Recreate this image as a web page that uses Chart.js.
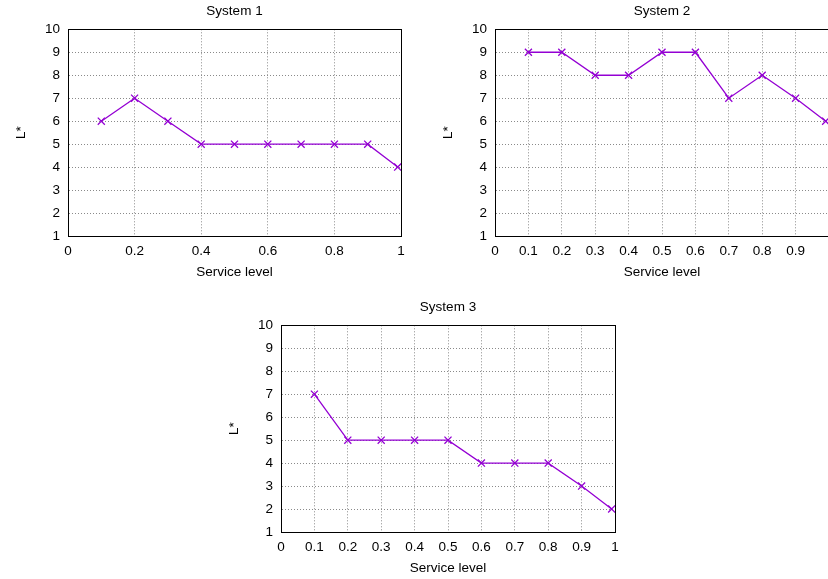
<!DOCTYPE html>
<html>
<head>
<meta charset="utf-8">
<script src="https://cdn.jsdelivr.net/npm/chart.js@4.4.1/dist/chart.umd.min.js"></script>
<style>
html, body { margin:0; padding:0; width:828px; height:579px; overflow:hidden; background:#fff; }
.box { position:absolute; }
</style>
</head>
<body>
<div class="box" style="left:0px;top:0px;width:420px;height:290px;"><canvas id="c1"></canvas></div>
<div class="box" style="left:427px;top:0px;width:421px;height:290px;"><canvas id="c2"></canvas></div>
<div class="box" style="left:213px;top:296px;width:421px;height:290px;"><canvas id="c3"></canvas></div>
<script>
// Data
const system1X = [0.1, 0.2, 0.3, 0.4, 0.5, 0.6, 0.7, 0.8, 0.9, 0.99];
const system1Y = [6, 7, 6, 5, 5, 5, 5, 5, 5, 4];
const system2X = [0.1, 0.2, 0.3, 0.4, 0.5, 0.6, 0.7, 0.8, 0.9, 0.99];
const system2Y = [9, 9, 8, 8, 9, 9, 7, 8, 7, 6];
const system3X = [0.1, 0.2, 0.3, 0.4, 0.5, 0.6, 0.7, 0.8, 0.9, 0.99];
const system3Y = [7, 5, 5, 5, 5, 4, 4, 4, 3, 2];
const titles = ['System 1', 'System 2', 'System 3'];
const xStep = [0.2, 0.1, 0.1];
// x tick labels shown per chart (chart 2 is cut at the right edge, its "1" is not visible)
const xLastLabelShown = [true, false, true];

const FONT = 'Liberation Sans, Arial, Helvetica, sans-serif';
const FS = 13.5;
const PURPLE = '#9400D3';

const frame = {
  id: 'frame',
  afterDraw(chart) {
    const a = chart.chartArea, ctx = chart.ctx;
    ctx.save();
    ctx.strokeStyle = '#000';
    ctx.lineWidth = 1;
    ctx.strokeRect(Math.round(a.left) + 0.5, Math.round(a.top) + 0.5,
                   Math.round(a.right - a.left), Math.round(a.bottom - a.top));
    ctx.restore();
  }
};

function make(id, xs, ys, title, step, showLast) {
  const pts = xs.map((x, i) => ({x: x, y: ys[i]}));
  new Chart(document.getElementById(id), {
    type: 'line',
    data: { datasets: [{
      data: pts,
      borderColor: PURPLE,
      backgroundColor: PURPLE,
      borderWidth: 1.3,
      pointStyle: 'crossRot',
      pointRadius: 5,
      pointBorderWidth: 1.3,
      pointBorderColor: PURPLE,
      fill: false,
      tension: 0
    }]},
    options: {
      responsive: true,
      maintainAspectRatio: false,
      animation: false,
      devicePixelRatio: 1,
      layout: { padding: { left: 0, right: 19, top: 0, bottom: 0 } },
      plugins: {
        legend: { display: false },
        tooltip: { enabled: false },
        title: {
          display: true, text: title, fullSize: false, color: '#000',
          font: { family: FONT, size: FS, weight: 'normal', lineHeight: 1.2 },
          padding: { top: 3, bottom: 10.1 }
        }
      },
      scales: {
        x: {
          type: 'linear', min: 0, max: 1,
          ticks: { stepSize: step, color: '#000', padding: 7, maxRotation: 0,
                   font: { family: FONT, size: FS },
                   callback: (v) => (v >= 1 && !showLast) ? '' : String(Number(v.toFixed(2))) },
          grid: { color: '#8a8a8a', drawTicks: false },
          border: { display: true, color: '#000', dash: [1, 2] },
          title: { display: true, text: 'Service level', color: '#000',
                   font: { family: FONT, size: FS }, padding: { top: 0, bottom: 10 } },
          afterFit(s) { s.height = 54; }
        },
        y: {
          type: 'linear', min: 1, max: 10,
          ticks: { stepSize: 1, color: '#000', padding: 8,
                   font: { family: FONT, size: FS } },
          grid: { color: '#8a8a8a', drawTicks: false },
          border: { display: true, color: '#000', dash: [1, 2] },
          title: { display: true, text: 'L*', color: '#000',
                   font: { family: FONT, size: FS }, padding: { top: 13, bottom: 0 } },
          afterFit(s) { s.width = 68; }
        }
      }
    },
    plugins: [frame]
  });
}

make('c1', system1X, system1Y, titles[0], xStep[0], xLastLabelShown[0]);
make('c2', system2X, system2Y, titles[1], xStep[1], xLastLabelShown[1]);
make('c3', system3X, system3Y, titles[2], xStep[2], xLastLabelShown[2]);
</script>
</body>
</html>
